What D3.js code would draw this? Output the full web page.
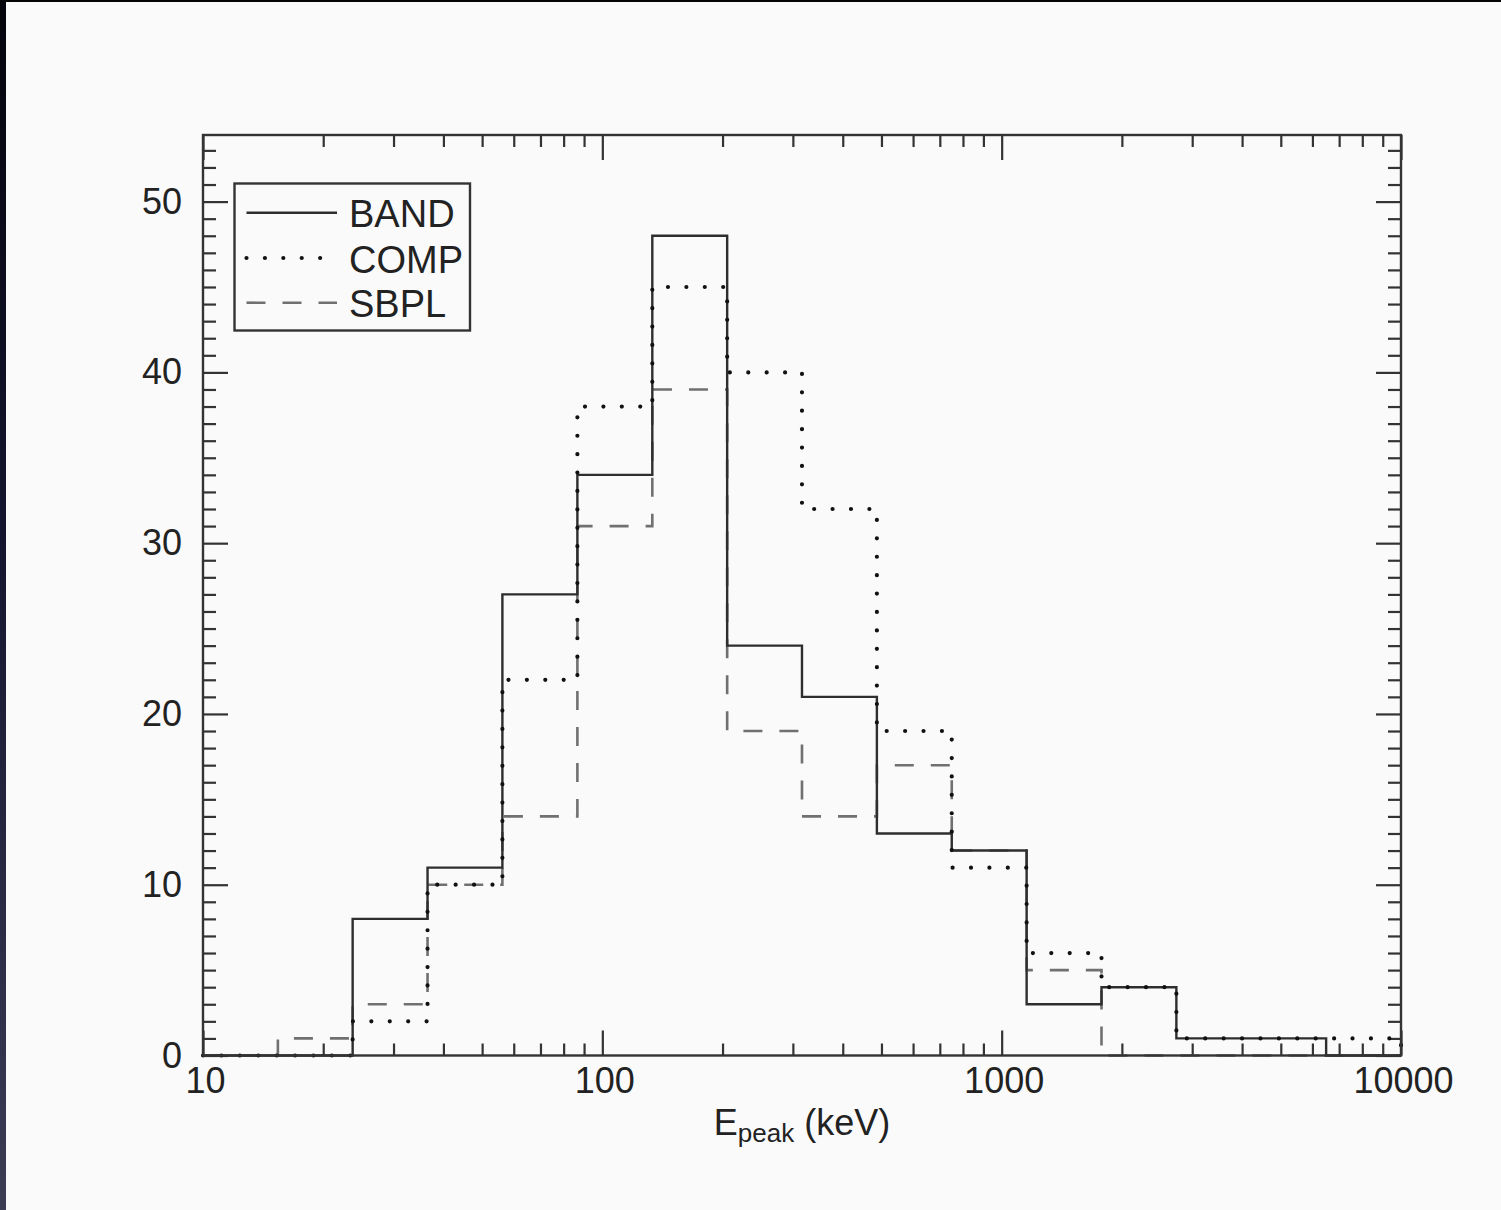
<!DOCTYPE html>
<html>
<head>
<meta charset="utf-8">
<script src="https://cdn.jsdelivr.net/npm/d3@7"></script>
<style>
  html, body { margin: 0; padding: 0; background: #fafafa; }
  svg { display: block; }
  text { font-family: "Liberation Sans", Arial, Helvetica, sans-serif; fill: #222; }
</style>
</head>
<body>
<svg id="chart" width="1501" height="1210"></svg>
<script>
// Histogram bin edges in keV (equal widths in log10 E)
const binEdges = [10, 15.4, 23.7, 36.5, 56.2, 86.6, 133.4, 205.4, 316.2, 487.0,
                  749.9, 1154.8, 1778.3, 2738.4, 4217.0, 6494.0, 10000];

// Counts per bin for each spectral model
const bandCounts = [0, 0, 8, 11, 27, 34, 48, 24, 21, 13, 12, 3, 4, 1, 1, 0];
const compCounts = [0, 0, 2, 10, 22, 38, 45, 40, 32, 19, 11, 6, 4, 1, 1, 1];
const sbplCounts = [0, 1, 3, 10, 14, 31, 39, 19, 14, 17, 12, 5, 0, 0, 0, 0];

const seriesNames = ["BAND", "COMP", "SBPL"];

const xMajorTicks = [10, 100, 1000, 10000];
const xTickLabels = ["10", "100", "1000", "10000"];
const yMajorTicks = [0, 10, 20, 30, 40, 50];
const yTickLabels = ["0", "10", "20", "30", "40", "50"];

const svg = d3.select("#chart");
const W = 1501, H = 1210;

// page background and the dark edge of the frame
svg.append("rect").attr("width", W).attr("height", H).attr("fill", "#fafafa");
const defs = svg.append("defs");
const grad = defs.append("linearGradient").attr("id", "edge").attr("x1", 0).attr("y1", 0).attr("x2", 0).attr("y2", 1);
grad.append("stop").attr("offset", "0%").attr("stop-color", "#04040c");
grad.append("stop").attr("offset", "45%").attr("stop-color", "#151530");
grad.append("stop").attr("offset", "100%").attr("stop-color", "#3c3c55");
svg.append("rect").attr("x", 0).attr("y", 0).attr("width", 6).attr("height", H).attr("fill", "url(#edge)");
svg.append("rect").attr("x", 0).attr("y", 0).attr("width", W).attr("height", 2).attr("fill", "#050508");

const plotLeft = 203, plotRight = 1401, plotTop = 135, plotBottom = 1055.5;

const x = d3.scaleLog().domain([10, 10000]).range([plotLeft, plotRight]);
const y = d3.scaleLinear().domain([0, 53.9]).range([plotBottom, plotTop]);

const axisColor = "#333";

// minor tick values
const xMinor = [];
[10, 100, 1000].forEach(d => { for (let k = 2; k <= 9; k++) xMinor.push(d * k); });
const yMinor = d3.range(1, 54).filter(v => v % 10 !== 0);

function styleAxis(g) {
  g.select(".domain").remove();
  g.selectAll(".tick line").attr("stroke", axisColor).attr("stroke-width", 2.2);
}

// bottom axis
svg.append("g").attr("transform", `translate(0,${plotBottom})`)
  .call(d3.axisBottom(x).tickValues(xMajorTicks).tickSize(-25).tickPadding(12)
    .tickFormat((d, i) => xTickLabels[i]))
  .call(styleAxis)
  .call(g => g.selectAll("text").attr("font-size", 36).attr("fill", "#222")
    .attr("font-family", "Liberation Sans, Arial, sans-serif").attr("dx", 2));
svg.append("g").attr("transform", `translate(0,${plotBottom})`)
  .call(d3.axisBottom(x).tickValues(xMinor).tickSize(-12).tickFormat(""))
  .call(styleAxis);

// top axis
svg.append("g").attr("transform", `translate(0,${plotTop})`)
  .call(d3.axisTop(x).tickValues(xMajorTicks).tickSize(-25).tickFormat(""))
  .call(styleAxis);
svg.append("g").attr("transform", `translate(0,${plotTop})`)
  .call(d3.axisTop(x).tickValues(xMinor).tickSize(-12).tickFormat(""))
  .call(styleAxis);

// left axis
svg.append("g").attr("transform", `translate(${plotLeft},0)`)
  .call(d3.axisLeft(y).tickValues(yMajorTicks).tickSize(-25).tickPadding(21)
    .tickFormat((d, i) => yTickLabels[i]))
  .call(styleAxis)
  .call(g => g.selectAll("text").attr("font-size", 36).attr("fill", "#222")
    .attr("font-family", "Liberation Sans, Arial, sans-serif"));
svg.append("g").attr("transform", `translate(${plotLeft},0)`)
  .call(d3.axisLeft(y).tickValues(yMinor).tickSize(-13).tickFormat(""))
  .call(styleAxis);

// right axis
svg.append("g").attr("transform", `translate(${plotRight},0)`)
  .call(d3.axisRight(y).tickValues(yMajorTicks).tickSize(-25).tickFormat(""))
  .call(styleAxis);
svg.append("g").attr("transform", `translate(${plotRight},0)`)
  .call(d3.axisRight(y).tickValues(yMinor).tickSize(-13).tickFormat(""))
  .call(styleAxis);

// histogram outlines as step paths
function stepPoints(counts) {
  const pts = [[binEdges[0], 0]];
  counts.forEach((c, i) => {
    pts.push([binEdges[i], c]);
    pts.push([binEdges[i + 1], c]);
  });
  pts.push([binEdges[binEdges.length - 1], 0]);
  return pts;
}
const line = d3.line().x(d => x(d[0])).y(d => y(d[1]));

const styles = {
  BAND: { stroke: "#2e2e2e", width: 2.4, dash: null, cap: "butt" },
  COMP: { stroke: "#111", width: 4.2, dash: "0.01,18.4", cap: "round" },
  SBPL: { stroke: "#707070", width: 2.6, dash: "19,17", cap: "butt" }
};
const countsByName = { BAND: bandCounts, COMP: compCounts, SBPL: sbplCounts };

const plot = svg.append("g");
["SBPL", "BAND", "COMP"].forEach(name => {
  const s = styles[name];
  plot.append("path")
    .attr("d", line(stepPoints(countsByName[name])))
    .attr("fill", "none")
    .attr("stroke", s.stroke)
    .attr("stroke-width", s.width)
    .attr("stroke-linecap", s.cap)
    .attr("stroke-linejoin", "miter")
    .attr("stroke-dasharray", s.dash);
});

// plot frame
svg.append("rect").attr("x", plotLeft).attr("y", plotTop)
  .attr("width", plotRight - plotLeft).attr("height", plotBottom - plotTop)
  .attr("fill", "none").attr("stroke", axisColor).attr("stroke-width", 2.4);

// legend
const lg = svg.append("g");
lg.append("rect").attr("x", 234.5).attr("y", 183.5).attr("width", 235.5).attr("height", 147)
  .attr("fill", "none").attr("stroke", axisColor).attr("stroke-width", 2.4);
const legendRows = [212.7, 258, 302.7];
seriesNames.forEach((name, i) => {
  const s = styles[name];
  const ly = legendRows[i];
  lg.append("line").attr("x1", 246.5).attr("x2", 337).attr("y1", ly).attr("y2", ly)
    .attr("stroke", s.stroke).attr("stroke-width", s.width)
    .attr("stroke-linecap", s.cap).attr("stroke-dasharray", s.dash);
  lg.append("text").attr("x", 349).attr("y", ly + 14.5)
    .attr("font-size", 38).text(name);
});

// x-axis title
const title = svg.append("text").attr("x", 802).attr("y", 1135)
  .attr("text-anchor", "middle").attr("font-size", 36);
title.append("tspan").text("E");
title.append("tspan").attr("font-size", 26).attr("dy", 7).text("peak");
title.append("tspan").attr("dy", -7).text(" (keV)");
</script>
</body>
</html>
